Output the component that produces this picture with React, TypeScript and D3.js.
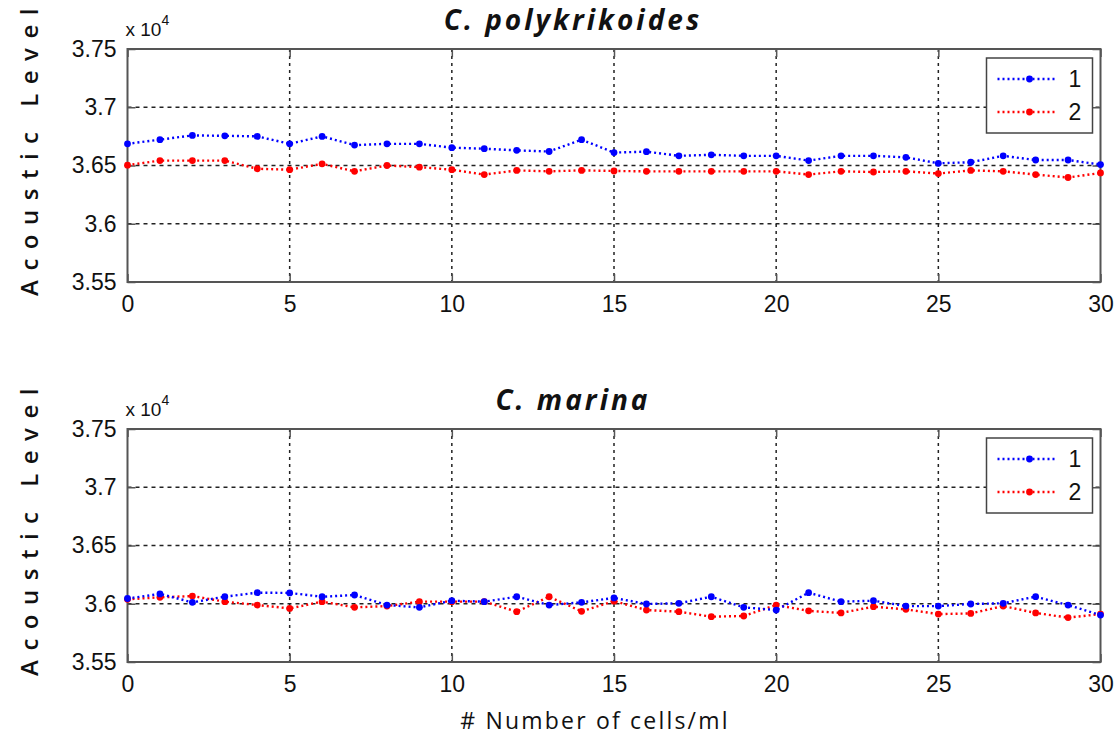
import React, { useEffect, useRef } from 'react';
import { select, scaleLinear, line, axisBottom, axisLeft, axisTop, axisRight } from 'd3';

// x values (# cells/ml steps)
const cells = [0, 1, 2, 3, 4, 5, 6, 7, 8, 9, 10, 11, 12, 13, 14, 15, 16, 17, 18, 19, 20, 21, 22, 23, 24, 25, 26, 27, 28, 29, 30];

// acoustic level, in units of 10^4
const polyS1 = [3.6686, 3.6722, 3.6758, 3.6755, 3.675, 3.6686, 3.675, 3.6675, 3.6686, 3.6686, 3.6653, 3.6644, 3.663, 3.662, 3.6722, 3.6611,
  3.6619, 3.6583, 3.6592, 3.6583, 3.6583, 3.6542, 3.6583, 3.6583, 3.657, 3.6519, 3.6528, 3.6583, 3.6547, 3.6547, 3.6508];
const polyS2 = [3.6503, 3.6542, 3.6542, 3.6542, 3.6472, 3.6464, 3.6514, 3.645, 3.65, 3.6486, 3.6464, 3.6422, 3.6458, 3.645, 3.6458, 3.6453,
  3.645, 3.645, 3.645, 3.645, 3.645, 3.6422, 3.645, 3.6444, 3.645, 3.6431, 3.6458, 3.645, 3.6422, 3.6397, 3.6436];
const marinaS1 = [3.6045, 3.6084, 3.6012, 3.6061, 3.6095, 3.6093, 3.606, 3.6075, 3.5989, 3.5969, 3.6026, 3.6018, 3.606, 3.5989, 3.6012, 3.605,
  3.5998, 3.6004, 3.606, 3.5969, 3.5946, 3.6095, 3.6018, 3.6026, 3.598, 3.598, 3.5998, 3.6004, 3.6061, 3.5989, 3.5903];
const marinaS2 = [3.6038, 3.6055, 3.6066, 3.6018, 3.5989, 3.596, 3.6018, 3.5969, 3.598, 3.6018, 3.6018, 3.6018, 3.5932, 3.606, 3.5935, 3.6022,
  3.5946, 3.5932, 3.5889, 3.5895, 3.5989, 3.5939, 3.5921, 3.5975, 3.5952, 3.5911, 3.5917, 3.598, 3.5921, 3.5881, 3.5911];

const xTicks = [0, 5, 10, 15, 20, 25, 30];
const yTicks = [3.55, 3.6, 3.65, 3.7, 3.75];
const seriesNames = ['1', '2'];
const seriesColors = ['#0000ff', '#ff0000'];

const left = 127.5;
const right = 1100.5;
const panelH = 233;

const Panel = ({ title, s1, s2, top }) => {
  const gRef = useRef(null);

  useEffect(() => {
    const g = select(gRef.current);
    g.selectAll('*').remove();
    const x = scaleLinear().domain([0, 30]).range([left, right]);
    const y = scaleLinear().domain([3.55, 3.75]).range([top + panelH, top]);

    // grid
    g.append('g')
      .selectAll('line')
      .data(xTicks.slice(1, -1))
      .join('line')
      .attr('x1', (d) => x(d))
      .attr('x2', (d) => x(d))
      .attr('y1', top)
      .attr('y2', top + panelH)
      .attr('stroke', '#222')
      .attr('stroke-width', 1.5)
      .attr('stroke-dasharray', '3,4');
    g.append('g')
      .selectAll('line')
      .data(yTicks.slice(1, -1))
      .join('line')
      .attr('x1', left)
      .attr('x2', right)
      .attr('y1', (d) => y(d))
      .attr('y2', (d) => y(d))
      .attr('stroke', '#222')
      .attr('stroke-width', 1.5)
      .attr('stroke-dasharray', '4,4');

    // axes
    const styleAxis = (sel) => {
      sel.select('.domain').remove();
      sel.selectAll('.tick line').attr('stroke', '#555').attr('stroke-width', 1.5);
      sel
        .selectAll('.tick text')
        .attr('fill', '#111')
        .style('font-family', '"Liberation Sans", Arial, sans-serif')
        .style('font-size', '23px');
    };
    g.append('g')
      .attr('transform', `translate(0, ${top + panelH})`)
      .call(axisBottom(x).tickValues(xTicks).tickSizeInner(-8).tickSizeOuter(0).tickPadding(14).tickFormat((d) => `${d}`))
      .call(styleAxis);
    g.append('g')
      .attr('transform', `translate(${left}, 0)`)
      .call(axisLeft(y).tickValues(yTicks).tickSizeInner(-8).tickSizeOuter(0).tickPadding(11).tickFormat((d) => `${+d.toFixed(2)}`))
      .call(styleAxis);
    g.append('g')
      .attr('transform', `translate(0, ${top})`)
      .call(axisTop(x).tickValues(xTicks).tickSizeInner(-8).tickSizeOuter(0).tickFormat(() => ''))
      .call(styleAxis);
    g.append('g')
      .attr('transform', `translate(${right}, 0)`)
      .call(axisRight(y).tickValues(yTicks).tickSizeInner(-8).tickSizeOuter(0).tickFormat(() => ''))
      .call(styleAxis);

    // frame
    g.append('rect')
      .attr('x', left)
      .attr('y', top)
      .attr('width', right - left)
      .attr('height', panelH)
      .attr('fill', 'none')
      .attr('stroke', '#555')
      .attr('stroke-width', 2);

    // series
    const lineGen = line()
      .x((d, i) => x(cells[i]))
      .y((d) => y(d));
    [s2, s1].forEach((s, k) => {
      const color = seriesColors[1 - k];
      g.append('path')
        .attr('d', lineGen(s))
        .attr('fill', 'none')
        .attr('stroke', color)
        .attr('stroke-width', 2.4)
        .attr('stroke-dasharray', '2,3');
      g.append('g')
        .selectAll('circle')
        .data(s)
        .join('circle')
        .attr('cx', (d, i) => x(cells[i]))
        .attr('cy', (d) => y(d))
        .attr('r', 3.4)
        .attr('fill', color);
    });

    // legend
    const lx = right - 114;
    const ly = top + 9;
    const lg = g.append('g');
    lg.append('rect')
      .attr('x', lx)
      .attr('y', ly)
      .attr('width', 106)
      .attr('height', 75)
      .attr('fill', '#fff')
      .attr('stroke', '#444')
      .attr('stroke-width', 1.5);
    seriesNames.forEach((name, i) => {
      const yy = ly + 21 + i * 33;
      lg.append('line')
        .attr('x1', lx + 11)
        .attr('x2', lx + 71)
        .attr('y1', yy)
        .attr('y2', yy)
        .attr('stroke', seriesColors[i])
        .attr('stroke-width', 2.4)
        .attr('stroke-dasharray', '2,3');
      lg.append('circle').attr('cx', lx + 43).attr('cy', yy).attr('r', 3.4).attr('fill', seriesColors[i]);
      lg.append('text')
        .attr('x', lx + 82)
        .attr('y', yy + 8)
        .attr('fill', '#111')
        .style('font-family', '"Liberation Sans", Arial, sans-serif')
        .style('font-size', '23px')
        .text(name);
    });
  }, [s1, s2, top]);

  return (
    <g>
      <text
        x={573}
        y={top - 19}
        textAnchor="middle"
        fontFamily='"Open Sans", sans-serif'
        fontWeight="bold"
        fontStyle="italic"
        fontSize={28}
        letterSpacing={3}
        fill="#111"
      >
        {title}
      </text>
      <text x={left - 2} y={top - 13} fontFamily='"Liberation Sans", Arial, sans-serif' fontSize={19} fill="#111">
        x 10
        <tspan dy={-11} fontSize={14}>4</tspan>
      </text>
      <text
        transform={`translate(38, ${top + panelH / 2 - 18}) rotate(-90)`}
        textAnchor="middle"
        fontFamily='"Open Sans", sans-serif'
        fontWeight={600}
        fontSize={24}
        letterSpacing={9.5}
        fill="#111"
      >
        Acoustic Level
      </text>
      <g ref={gRef} />
    </g>
  );
};

export default function App() {
  return (
    <svg width={1120} height={746} style={{ position: 'absolute', left: 0, top: 0, background: '#fff' }}>
      <rect width={1120} height={746} fill="#fff" />
      <Panel title="C. polykrikoides" s1={polyS1} s2={polyS2} top={49} />
      <Panel title="C. marina" s1={marinaS1} s2={marinaS2} top={429} />
      <text x={595} y={729} textAnchor="middle" fontFamily='"Open Sans", sans-serif' fontSize={23} letterSpacing={2.2} fill="#111">
        # Number of cells/ml
      </text>
    </svg>
  );
}
